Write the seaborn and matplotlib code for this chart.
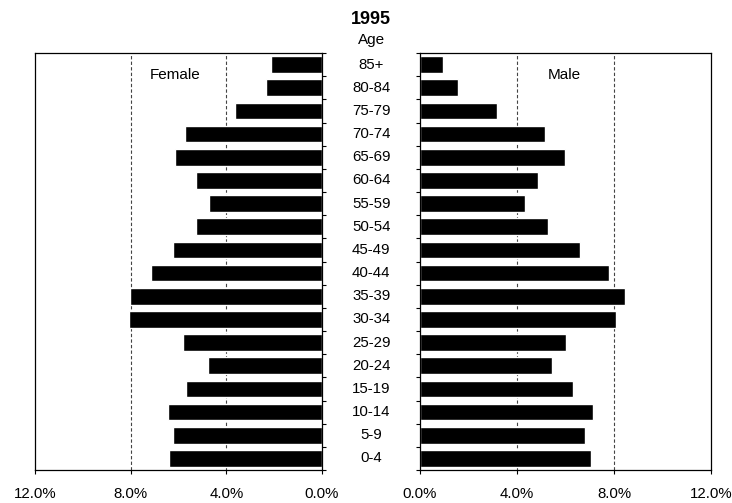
import matplotlib
matplotlib.use("Agg")
import matplotlib.pyplot as plt
import matplotlib.transforms as mtransforms
import seaborn as sns
import pandas as pd

# Population pyramid, 1995 (percent of population by age group)

ages = ["85+", "80-84", "75-79", "70-74", "65-69", "60-64", "55-59", "50-54",
        "45-49", "40-44", "35-39", "30-34", "25-29", "20-24", "15-19",
        "10-14", "5-9", "0-4"]
female = [2.15, 2.35, 3.65, 5.72, 6.14, 5.25, 4.72, 5.25, 6.22, 7.15, 8.03,
          8.05, 5.80, 4.78, 5.69, 6.43, 6.22, 6.40]
male = [0.94, 1.56, 3.16, 5.14, 5.99, 4.88, 4.33, 5.29, 6.60, 7.81, 8.45,
        8.07, 6.02, 5.45, 6.31, 7.15, 6.80, 7.04]
xticks = [0, 4, 8, 12]

df = pd.DataFrame({"age": ages, "female": female, "male": male})

sns.set_style("white")
plt.rcParams["font.family"] = ["Liberation Sans", "DejaVu Sans"]
plt.rcParams["text.color"] = "black"
plt.rcParams["xtick.color"] = "black"
plt.rcParams["ytick.color"] = "black"

fig = plt.figure(figsize=(7.32, 5.03), dpi=100)
ax_l = fig.add_axes([0.0478, 0.0656, 0.392, 0.829])
ax_r = fig.add_axes([0.5738, 0.0656, 0.3975, 0.829])

sns.barplot(data=df, x="female", y="age", order=ages, orient="h",
            color="black", width=0.72, saturation=1, ax=ax_l)
sns.barplot(data=df, x="male", y="age", order=ages, orient="h",
            color="black", width=0.72, saturation=1, ax=ax_r)

ax_l.set_xlim(12, 0)
ax_r.set_xlim(0, 12)

for ax in (ax_l, ax_r):
    ax.set_ylim(len(ages) - 0.5, -0.5)
    ax.set_xlabel("")
    ax.set_ylabel("")
    ax.set_xticks(xticks)
    ax.set_xticklabels([f"{v:.1f}%" for v in xticks], fontsize=10.8)
    ax.tick_params(axis="x", direction="out", length=3, width=0.8,
                   color="black", labelcolor="black", pad=9, bottom=True)
    ax.set_yticks([i - 0.5 for i in range(len(ages) + 1)])
    ax.set_yticklabels([])
    ax.tick_params(axis="y", direction="out", length=3, width=0.8,
                   color="black")
    for v in xticks[1:3]:
        ax.axvline(v, color="#444444", linestyle=(0, (3, 2)), lw=0.8, zorder=0)
    for s in ax.spines.values():
        s.set_color("black")
        s.set_linewidth(0.9)
    ax.set_axisbelow(True)

ax_l.yaxis.tick_right()
ax_r.yaxis.tick_left()

# age labels between the two panels
trans = mtransforms.blended_transform_factory(fig.transFigure, ax_r.transData)
for i, a in enumerate(ages):
    fig.text(0.507, i, a, transform=trans, ha="center", va="center",
             fontsize=10.8, color="black")

ax_l.text(0.488, 0.948, "Female", transform=ax_l.transAxes, ha="center",
          va="center", fontsize=11, color="black")
ax_r.text(0.495, 0.948, "Male", transform=ax_r.transAxes, ha="center",
          va="center", fontsize=11, color="black")

fig.text(0.507, 0.962, "1995", ha="center", va="center", fontsize=13,
         fontweight="bold", color="black")
fig.text(0.507, 0.92, "Age", ha="center", va="center", fontsize=11,
         color="black")

fig.savefig("out.png", dpi=100)
